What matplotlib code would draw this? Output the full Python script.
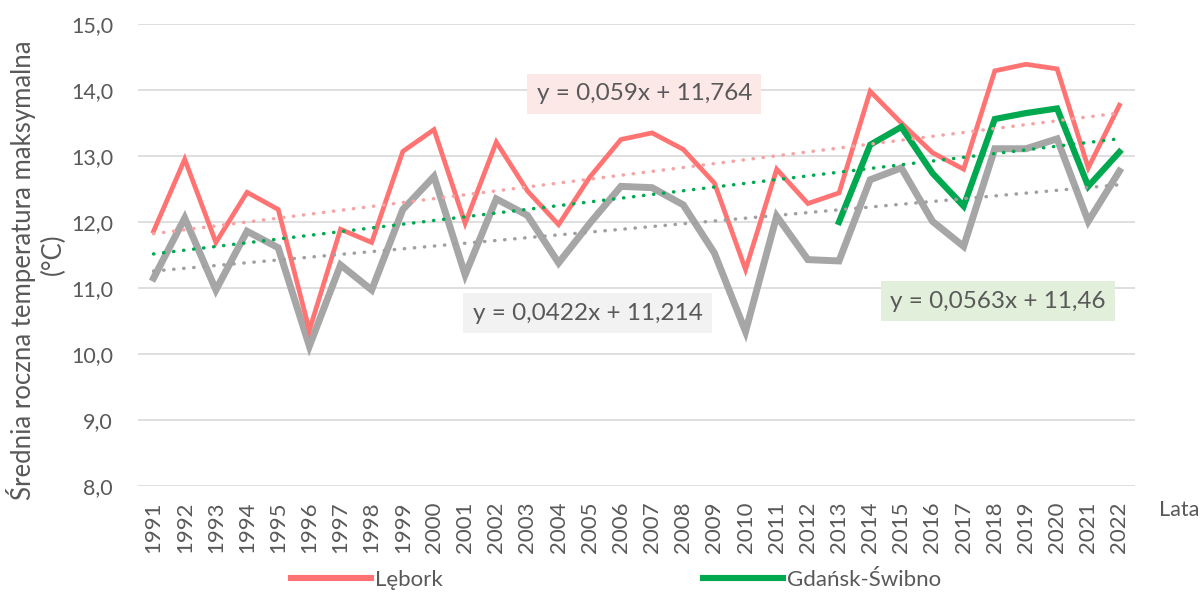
import numpy as np
import matplotlib.pyplot as plt
from matplotlib.ticker import FuncFormatter
from matplotlib.lines import Line2D

plt.rcParams['font.family'] = ['Lato', 'DejaVu Sans']

# dane: średnia roczna temperatura maksymalna (°C)
lata = list(range(1991, 2023))
lebork = [11.86, 12.95, 11.69, 12.45, 12.19, 10.36, 11.89, 11.69, 13.07, 13.40,
          11.98, 13.21, 12.47, 11.96, 12.68, 13.25, 13.35, 13.10, 12.59, 11.28,
          12.80, 12.28, 12.44, 13.98, 13.50, 13.05, 12.80, 14.29, 14.39, 14.32,
          12.82, 13.77]
szara = [11.15, 12.06, 10.97, 11.86, 11.61, 10.12, 11.35, 10.97, 12.19, 12.69,
         11.20, 12.35, 12.10, 11.38, 11.98, 12.54, 12.52, 12.26, 11.53, 10.34,
         12.09, 11.43, 11.41, 12.64, 12.82, 12.01, 11.63, 13.11, 13.11, 13.26,
         12.01, 12.77]
gdansk_lata = list(range(2013, 2023))
gdansk = [12.00, 13.17, 13.44, 12.74, 12.24, 13.56, 13.65, 13.72, 12.54, 13.06]

# linie trendu (y = a*x + b, x = numer roku od 1)
trend_lebork = (0.059, 11.764)
trend_szara = (0.0422, 11.214)
trend_gdansk = (0.0563, 11.46)

kol_red = '#FF7373'
kol_gray = '#A6A6A6'
kol_green = '#00A84F'
kol_txt = '#595959'

x = np.arange(1, len(lata) + 1)
xg = np.array([lata.index(r) + 1 for r in gdansk_lata])

fig = plt.figure(figsize=(12.02, 6.03), dpi=100)
ax = fig.add_axes([138 / 1202, 1 - 486 / 603, (1135 - 138) / 1202, (486 - 24) / 603])

ax.plot(x, szara, color=kol_gray, lw=5.0, solid_joinstyle='miter', zorder=3)
ax.plot(x, lebork, color=kol_red, lw=3.4, solid_joinstyle='miter', zorder=4)
ax.plot(xg, gdansk, color=kol_green, lw=4.5, solid_joinstyle='miter', zorder=5)

kropki = (0, (0.1, 2.8))
for (a, b), kol in [(trend_lebork, '#F6A3A3'), (trend_szara, '#A0A0A0'), (trend_gdansk, '#00A84F')]:
    ax.plot(x, a * x + b, color=kol, lw=2.5, linestyle=kropki, dash_capstyle='round', zorder=6)

# równania trendów
ax.text(16.75, 13.94, 'y = 0,059x + 11,764', fontsize=17.5, color=kol_txt, ha='center', va='center',
        bbox=dict(boxstyle='square,pad=0.38', fc='#FDE8E8', ec='none'), zorder=7)
ax.text(14.93, 10.62, 'y = 0,0422x + 11,214', fontsize=17.5, color=kol_txt, ha='center', va='center',
        bbox=dict(boxstyle='square,pad=0.38', fc='#F2F2F2', ec='none'), zorder=7)
ax.text(28.1, 10.80, 'y = 0,0563x + 11,46', fontsize=17.5, color=kol_txt, ha='center', va='center',
        bbox=dict(boxstyle='square,pad=0.38', fc='#E2EFDA', ec='none'), zorder=7)

ax.set_xlim(0.5, len(lata) + 0.5)
ax.set_ylim(8, 15)
ax.set_yticks(np.arange(8, 16, 1))
ax.yaxis.set_major_formatter(FuncFormatter(lambda v, p: f'{v:.1f}'.replace('.', ',')))
ax.set_xticks(x)
ax.set_xticklabels(lata, rotation=90)
ax.tick_params(axis='y', length=0, pad=18, labelsize=15.5, labelcolor=kol_txt)
ax.tick_params(axis='x', length=0, pad=11, labelsize=16, labelcolor=kol_txt)
ax.grid(axis='y', color='#D9D9D9', lw=1.2)
ax.set_axisbelow(True)
for s in ax.spines.values():
    s.set_visible(False)

# opis osi Y w dwóch wierszach
fig.text(21 / 1202, 1 - 270 / 603, 'Średnia roczna temperatura maksymalna', rotation=90, fontsize=18.5,
         color=kol_txt, ha='center', va='center')
fig.text(53 / 1202, 1 - 254 / 603, '(°C)', rotation=90, fontsize=18.5,
         color=kol_txt, ha='center', va='center')
fig.text(1179 / 1202, 1 - 510 / 603, 'Lata', fontsize=15.5, color=kol_txt, ha='center', va='center')

uchwyty = [Line2D([], [], color=kol_red, lw=4.4), Line2D([], [], color=kol_green, lw=4.4)]
fig.legend(uchwyty, ['Lębork', 'Gdańsk-Świbno'], loc='center', bbox_to_anchor=(616 / 1202, 1 - 580 / 603),
           ncol=2, frameon=False, fontsize=16, handlelength=3.6, columnspacing=11.7, handletextpad=0.2,
           labelcolor=kol_txt)

fig.savefig('out.png', dpi=100)
